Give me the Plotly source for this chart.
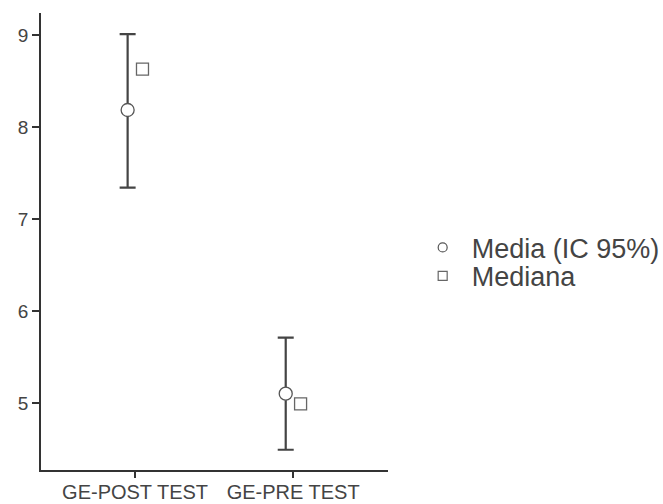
import plotly.graph_objects as go

categories = ["GE-POST TEST", "GE-PRE TEST"]
mean_values = [8.185, 5.10]
ci_lower = [7.34, 4.49]
ci_upper = [9.01, 5.71]
median_values = [8.63, 4.99]
y_ticks = [5, 6, 7, 8, 9]

OFFSET = 0.047
xs = list(range(len(categories)))
x_mean = [x - OFFSET for x in xs]
x_med = [x + OFFSET for x in xs]
err_plus = [u - m for u, m in zip(ci_upper, mean_values)]
err_minus = [m - l for m, l in zip(mean_values, ci_lower)]

fig = go.Figure()
fig.add_trace(go.Scatter(
    x=x_mean, y=mean_values, mode="markers", showlegend=False,
    marker=dict(symbol="circle", size=13, color="white", line=dict(color="#555555", width=1.3)),
    error_y=dict(type="data", symmetric=False, array=err_plus, arrayminus=err_minus,
                 color="#444444", thickness=2.2, width=8),
))
fig.add_trace(go.Scatter(
    x=x_med, y=median_values, mode="markers", showlegend=False,
    marker=dict(symbol="square", size=12, color="white", line=dict(color="#666666", width=1.3)),
))
# legend entries (two separately placed legends)
fig.add_trace(go.Scatter(
    x=[None], y=[None], mode="markers", name="Media (IC 95%)", legend="legend",
    marker=dict(symbol="circle", size=9, color="white", line=dict(color="#555555", width=1.2)),
))
fig.add_trace(go.Scatter(
    x=[None], y=[None], mode="markers", name="Mediana", legend="legend2",
    marker=dict(symbol="square", size=9, color="white", line=dict(color="#666666", width=1.2)),
))

legend_common = dict(xanchor="left", yanchor="middle", itemwidth=48,
                     font=dict(size=27, color="#444444"), itemsizing="trace",
                     bgcolor="rgba(0,0,0,0)")

axis_common = dict(showgrid=False, zeroline=False, showline=True, linecolor="#333333",
                   linewidth=1.5, ticks="outside", tickwidth=1.5,
                   tickcolor="#333333", automargin=False)

fig.update_layout(
    width=663, height=504,
    margin=dict(l=41, r=275, t=13, b=34, autoexpand=False),
    plot_bgcolor="white", paper_bgcolor="white",
    font=dict(family="Liberation Sans, Arial, sans-serif", color="#444444", size=13),
    legend=dict(x=1.074, y=0.486, **legend_common),
    legend2=dict(x=1.074, y=0.424, **legend_common),
    xaxis=dict(range=[-0.595, 1.6], tickvals=xs, ticktext=categories, ticklen=6,
               ticklabelstandoff=-3,
               tickfont=dict(size=20, color="#444444"), **axis_common),
    yaxis=dict(range=[4.27, 9.24], tickvals=y_ticks, ticklen=7,
               tickfont=dict(size=19, color="#444444"), **axis_common),
)

fig.write_html("out.html", config={"displayModeBar": False},
               post_script="document.body.style.margin='0';")
